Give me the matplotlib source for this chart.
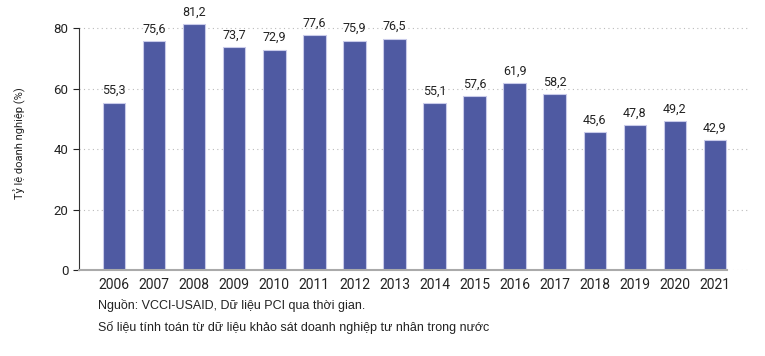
import matplotlib
matplotlib.use('Agg')
import matplotlib.pyplot as plt
import numpy as np

plt.rcParams['font.family'] = ['Roboto', 'DejaVu Sans']

# Dữ liệu
years = ['2006', '2007', '2008', '2009', '2010', '2011', '2012', '2013',
         '2014', '2015', '2016', '2017', '2018', '2019', '2020', '2021']
values = [55.3, 75.6, 81.2, 73.7, 72.9, 77.6, 75.9, 76.5,
          55.1, 57.6, 61.9, 58.2, 45.6, 47.8, 49.2, 42.9]
yticks = [0, 20, 40, 60, 80]

fig = plt.figure(figsize=(7.65, 3.56), dpi=100)
ax = fig.add_axes([0.1033, 0.2416, 0.8747, 0.7134])

x = np.arange(len(years))
ax.bar(x, values, width=0.56, color='#4F5AA2', edgecolor='#C9CBEA', linewidth=0.8, zorder=3)

for xi, v in zip(x, values):
    ax.annotate(f'{v:.1f}'.replace('.', ','), (xi, v), xytext=(0, 4),
                textcoords='offset points', ha='center', va='bottom',
                fontsize=9, color='#222222')

ax.set_xlim(-0.875, 15.83)
ax.set_ylim(0, 84)
ax.set_yticks(yticks)
ax.set_xticks(x)
ax.set_xticklabels(years, fontsize=10, color='#222222')
ax.tick_params(axis='x', length=0, pad=6)
ax.tick_params(axis='y', labelsize=9.5, colors='#222222', length=4, width=0.8, direction='out')

ax.yaxis.grid(True, linestyle=(0, (1, 3)), color='#BBBBBB', linewidth=0.8)
for s in ['top', 'right', 'bottom']:
    ax.spines[s].set_visible(False)
ax.spines['left'].set_bounds(0, 80)
ax.spines['left'].set_color('#333333')
ax.plot([-0.875, 15.3], [0, 0], color='#AAAAAA', linewidth=1.5, zorder=4, clip_on=False)

ax.set_ylabel('Tỷ lệ doanh nghiệp (%)', fontsize=8, color='#222222', labelpad=20)

src_font = ['Liberation Sans', 'DejaVu Sans']
fig.text(0.128, 1 - 306 / 356, 'Nguồn: VCCI-USAID, Dữ liệu PCI qua thời gian.', fontsize=9,
         color='#222222', va='center', family=src_font)
fig.text(0.128, 1 - 327 / 356, 'Số liệu tính toán từ dữ liệu khảo sát doanh nghiệp tư nhân trong nước',
         fontsize=9, color='#222222', va='center', family=src_font)

fig.savefig('out.png', dpi=100)
